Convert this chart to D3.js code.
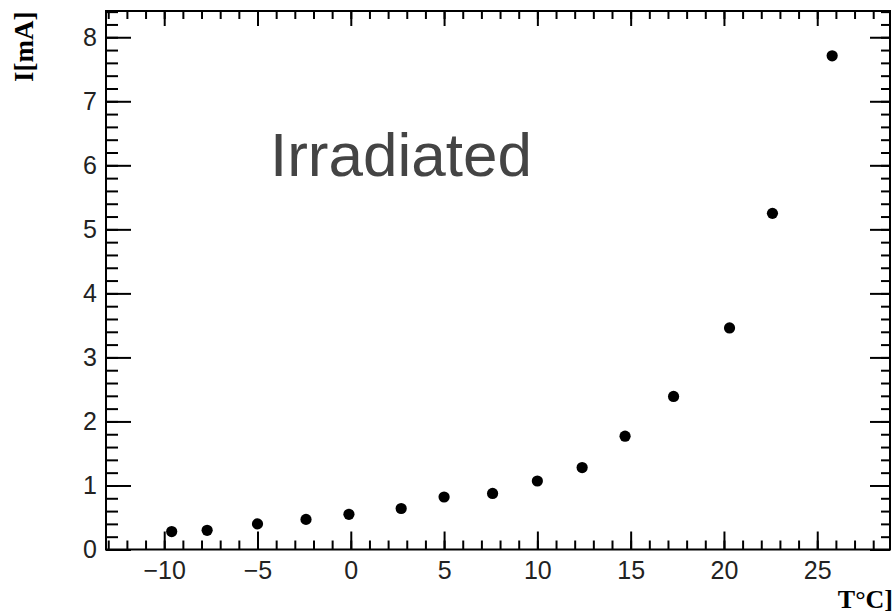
<!DOCTYPE html>
<html><head><meta charset="utf-8">
<script src="https://cdn.jsdelivr.net/npm/d3@7"></script>
<style>html,body{margin:0;padding:0;background:#fff;}svg{display:block;}</style>
</head><body>
<script>
const temperatures = [-9.6, -7.7, -5.0, -2.4, -0.1, 2.7, 5.0, 7.6, 10.0, 12.4, 14.7, 17.3, 20.3, 22.6, 25.8];
const currents = [0.28, 0.30, 0.40, 0.47, 0.55, 0.64, 0.82, 0.875, 1.07, 1.28, 1.77, 2.39, 3.46, 5.25, 7.71];
const xTickValues = [-10, -5, 0, 5, 10, 15, 20, 25];
const yTickValues = [0, 1, 2, 3, 4, 5, 6, 7, 8];
const xTitle = "T°C]";
const yTitle = "I[mA]";
const labelText = "Irradiated";

const W = 896, H = 613;
const L = 106, R = 890, T = 11, B = 549.5;
const svg = d3.select("body").append("svg").attr("width", W).attr("height", H);

const x = d3.scaleLinear().domain([-13.12, 28.9]).range([L, R]);
const y = d3.scaleLinear().domain([0, 8.41]).range([B, T]);

const minorX = d3.range(-13, 29, 1);
const minorY = d3.range(0, 8.41, 0.2);

const tickStyle = g => g.selectAll("line").attr("stroke", "#000").attr("stroke-width", 2);

// bottom axis (ticks inward)
const gb = svg.append("g").attr("transform", `translate(0,${B})`);
gb.call(d3.axisBottom(x).tickValues(minorX).tickSize(-9).tickFormat(""));
gb.call(g => g.select(".domain").remove());
const gb2 = svg.append("g").attr("transform", `translate(0,${B})`);
gb2.call(d3.axisBottom(x).tickValues(xTickValues).tickSize(-18).tickPadding(14).tickFormat(d3.format("d")));
gb2.call(g => g.select(".domain").remove());
gb2.selectAll("text").attr("font-family", "Liberation Sans, Arial, sans-serif").attr("font-size", 25).attr("fill", "#222").attr("dy", "0.71em").attr("y", 12);

// top axis
const gt = svg.append("g").attr("transform", `translate(0,${T})`);
gt.call(d3.axisTop(x).tickValues(minorX).tickSize(-8).tickFormat(""));
gt.call(g => g.select(".domain").remove());
const gt2 = svg.append("g").attr("transform", `translate(0,${T})`);
gt2.call(d3.axisTop(x).tickValues(xTickValues).tickSize(-15).tickFormat(""));
gt2.call(g => g.select(".domain").remove());

// left axis
const gl = svg.append("g").attr("transform", `translate(${L},0)`);
gl.call(d3.axisLeft(y).tickValues(minorY).tickSize(-12).tickFormat(""));
gl.call(g => g.select(".domain").remove());
const gl2 = svg.append("g").attr("transform", `translate(${L},0)`);
gl2.call(d3.axisLeft(y).tickValues(yTickValues).tickSize(-25).tickPadding(8).tickFormat(d3.format("d")));
gl2.call(g => g.select(".domain").remove());
gl2.selectAll("text").attr("font-family", "Liberation Sans, Arial, sans-serif").attr("font-size", 25).attr("fill", "#222").attr("x", -9);

// right axis
const gr = svg.append("g").attr("transform", `translate(${R},0)`);
gr.call(d3.axisRight(y).tickValues(minorY).tickSize(-9).tickFormat(""));
gr.call(g => g.select(".domain").remove());
const gr2 = svg.append("g").attr("transform", `translate(${R},0)`);
gr2.call(d3.axisRight(y).tickValues(yTickValues).tickSize(-20).tickFormat(""));
gr2.call(g => g.select(".domain").remove());

[gb, gb2, gt, gt2, gl, gl2, gr, gr2].forEach(tickStyle);

// frame
svg.append("rect").attr("x", L).attr("y", T).attr("width", R - L).attr("height", B - T)
  .attr("fill", "none").attr("stroke", "#000").attr("stroke-width", 2);

// points
svg.append("g").selectAll("circle").data(temperatures).join("circle")
  .attr("cx", d => x(d)).attr("cy", (d, i) => y(currents[i])).attr("r", 5.6).attr("fill", "#000");

// label
svg.append("text").attr("x", 270).attr("y", 176).text(labelText)
  .attr("font-family", "Liberation Sans, Arial, sans-serif").attr("font-size", 62).attr("fill", "#444");

// axis titles
svg.append("text").attr("x", 893).attr("y", 608).attr("text-anchor", "end").text(xTitle)
  .attr("font-family", "Liberation Serif, Times New Roman, serif").attr("font-weight", "bold").attr("font-size", 26).attr("fill", "#000");
svg.append("text").attr("transform", "translate(33,82) rotate(-90)").text(yTitle)
  .attr("font-family", "Liberation Serif, Times New Roman, serif").attr("font-weight", "bold").attr("font-size", 27).attr("fill", "#000");
</script>
</body></html>
